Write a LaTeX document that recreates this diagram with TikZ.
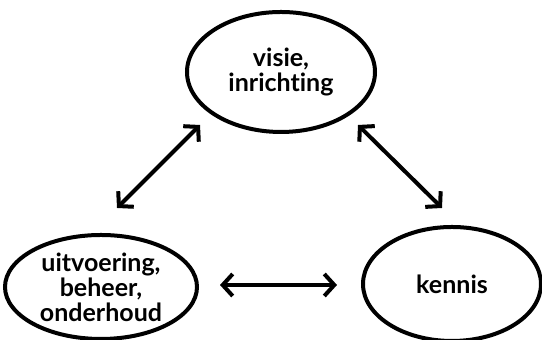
\documentclass[tikz,border=0pt]{standalone}
\usepackage{fontspec}
\setmainfont{Lato}[Ligatures={NoCommon,NoRare}]
\usetikzlibrary{arrows.meta,shapes.geometric}

\tikzset{
  topic/.style={ellipse, draw, line width=2pt, inner sep=0pt, align=center,
    font=\bfseries\fontsize{12.5}{12.5}\selectfont},
  link/.style={line width=2pt, {Straight Barb[length=5pt,width=11pt]}-{Straight Barb[length=5pt,width=11pt]}}
}

\begin{document}
\begin{tikzpicture}[x=0.5pt,y=0.5pt]
    \useasboundingbox (0,0) rectangle (542,340);

    % the three topics
    \node[topic, minimum width=94pt, minimum height=60pt] (visie) at (281,268) {visie,\\inrichting};
    \node[topic, minimum width=96pt, minimum height=52pt] (uitvoering) at (101,53) {uitvoering,\\beheer,\\onderhoud};
    \node[topic, minimum width=89pt, minimum height=57pt] (kennis) at (452,56) {kennis};

    % arrow ends
    \coordinate (vl) at (200,215);
    \coordinate (ul) at (117,132);
    \coordinate (vr) at (358,215);
    \coordinate (kr) at (442,132);
    \coordinate (uk) at (220,55);
    \coordinate (ku) at (337,55);

    \draw[link] (ul) -- (vl);
    \draw[link] (vr) -- (kr);
    \draw[link] (uk) -- (ku);
\end{tikzpicture}
\end{document}
